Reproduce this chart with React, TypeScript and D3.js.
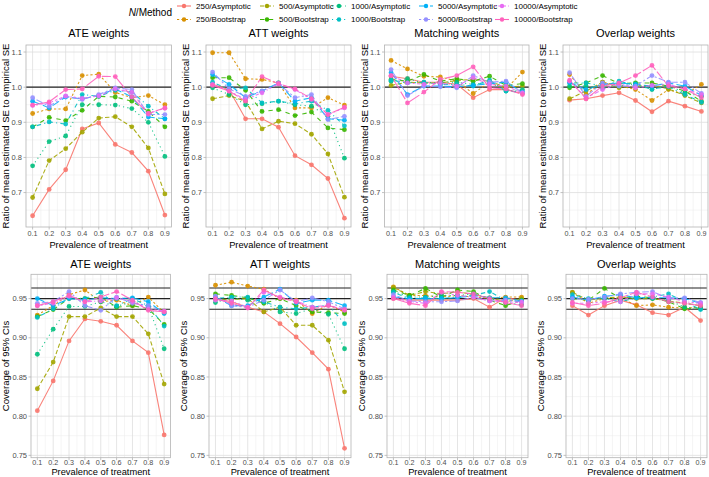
import React, { useEffect } from "react";
import * as d3 from "d3";

// ---------- data ----------
const prevalence = [0.1, 0.2, 0.3, 0.4, 0.5, 0.6, 0.7, 0.8, 0.9];
const seriesLabels = [
  "250/Asymptotic", "250/Bootstrap", "500/Asymptotic", "500/Bootstrap",
  "1000/Asymptotic", "1000/Bootstrap", "5000/Asymptotic", "5000/Bootstrap",
  "10000/Asymptotic", "10000/Bootstrap",
];
const seriesColors = [
  "#F8766D", "#D89000", "#A3A500", "#39B600", "#00BF7D",
  "#00BFC4", "#00B0F6", "#9590FF", "#E76BF3", "#FF62BC",
];
const seriesLinetypes = ["solid", "22", "42", "44", "13", "1343", "73", "2262", "12223242", "F282"];
const panelTitles = ["ATE weights", "ATT weights", "Matching weights", "Overlap weights"];
const seTicks = [0.7, 0.8, 0.9, 1.0, 1.1];
const covTicks = [0.75, 0.8, 0.85, 0.9, 0.95];
const seRefLines = [1.0];
const covRefLines = [0.9365, 0.95, 0.9635];

// Ratio of mean estimated SE to empirical SE (series order = seriesLabels)
const seATE = [
  [0.634, 0.709, 0.765, 0.881, 0.898, 0.837, 0.814, 0.761, 0.636],
  [0.925, 0.938, 0.938, 1.033, 1.037, 0.985, 0.970, 0.976, 0.950],
  [0.686, 0.791, 0.825, 0.872, 0.912, 0.916, 0.887, 0.827, 0.696],
  [0.887, 0.914, 0.905, 0.934, 0.974, 0.972, 0.960, 0.931, 0.887],
  [0.776, 0.845, 0.861, 0.950, 0.950, 0.949, 0.939, 0.900, 0.803],
  [0.887, 0.901, 0.895, 0.979, 0.974, 0.991, 0.986, 0.946, 0.910],
  [0.960, 0.941, 0.972, 0.967, 0.976, 0.995, 0.972, 0.915, 0.910],
  [0.970, 0.946, 0.974, 0.965, 0.979, 0.998, 0.993, 0.922, 0.922],
  [0.948, 0.955, 0.975, 0.968, 0.975, 0.995, 0.985, 0.925, 0.940],
  [0.949, 0.958, 0.993, 0.995, 1.031, 1.030, 0.972, 0.925, 0.941],
];
const seATT = [
  [1.008, 0.993, 0.910, 0.910, 0.886, 0.805, 0.779, 0.740, 0.627],
  [1.098, 1.098, 1.024, 1.022, 1.012, 0.941, 0.941, 0.970, 0.949],
  [0.967, 0.976, 0.960, 0.881, 0.903, 0.896, 0.866, 0.810, 0.687],
  [1.027, 1.027, 0.991, 0.931, 0.936, 0.919, 0.929, 0.884, 0.879],
  [0.998, 0.979, 0.950, 0.953, 0.960, 0.950, 0.946, 0.917, 0.798],
  [1.014, 0.993, 0.998, 0.955, 0.960, 0.953, 0.960, 0.934, 0.890],
  [1.036, 1.008, 0.970, 0.989, 1.012, 0.960, 0.970, 0.910, 0.906],
  [1.043, 0.995, 0.974, 0.989, 1.010, 0.970, 0.979, 0.908, 0.917],
  [1.008, 0.989, 0.965, 0.984, 1.010, 0.993, 0.965, 0.922, 0.941],
  [1.005, 0.989, 0.960, 1.030, 1.010, 0.995, 0.967, 0.922, 0.943],
];
const seMatching = [
  [1.031, 1.024, 1.014, 1.014, 1.008, 0.970, 0.993, 0.993, 0.982],
  [1.076, 1.052, 1.031, 1.029, 1.017, 0.982, 1.014, 0.995, 1.043],
  [1.005, 1.014, 1.012, 1.012, 1.019, 1.022, 1.017, 1.000, 1.003],
  [1.022, 1.017, 1.036, 1.017, 1.024, 1.017, 1.031, 1.005, 1.010],
  [1.017, 1.024, 1.012, 1.014, 1.014, 1.008, 1.014, 0.989, 0.993],
  [1.020, 1.012, 1.014, 1.008, 1.008, 1.003, 1.020, 0.989, 0.986],
  [1.041, 0.979, 1.003, 1.003, 1.001, 1.005, 1.010, 1.014, 0.986],
  [1.050, 0.976, 1.003, 1.001, 0.998, 1.033, 1.014, 1.017, 0.984],
  [1.033, 1.012, 1.008, 1.012, 1.003, 1.027, 1.008, 1.003, 0.984],
  [1.033, 0.955, 0.986, 1.022, 1.033, 1.058, 0.998, 0.995, 0.979],
];
const seOverlap = [
  [0.963, 0.967, 0.976, 0.984, 0.962, 0.930, 0.960, 0.946, 0.931],
  [1.036, 0.979, 1.014, 1.005, 0.993, 0.962, 0.993, 0.979, 1.008],
  [0.967, 0.989, 1.014, 0.998, 1.003, 1.005, 0.995, 0.976, 0.955],
  [0.998, 1.012, 1.033, 1.010, 1.012, 1.012, 1.003, 0.989, 0.960],
  [1.003, 1.003, 0.998, 1.003, 1.010, 0.993, 1.005, 0.984, 0.974],
  [1.012, 1.012, 1.003, 1.017, 1.005, 0.995, 1.001, 0.979, 0.957],
  [1.014, 0.993, 1.008, 1.012, 1.008, 1.003, 1.012, 1.003, 0.976],
  [1.041, 0.974, 1.012, 1.003, 1.003, 1.033, 1.014, 1.014, 0.982],
  [1.017, 0.970, 0.993, 1.010, 0.998, 1.005, 1.008, 0.995, 0.979],
  [1.020, 0.967, 1.003, 1.012, 1.033, 1.062, 1.003, 0.995, 0.970],
];

// Coverage of 95% CIs
const covATE = [
  [0.807, 0.845, 0.896, 0.924, 0.921, 0.916, 0.896, 0.881, 0.776],
  [0.929, 0.941, 0.955, 0.961, 0.946, 0.948, 0.941, 0.952, 0.932],
  [0.835, 0.869, 0.927, 0.927, 0.938, 0.927, 0.927, 0.905, 0.841],
  [0.927, 0.936, 0.950, 0.950, 0.952, 0.939, 0.941, 0.937, 0.917],
  [0.879, 0.911, 0.940, 0.940, 0.946, 0.940, 0.946, 0.940, 0.886],
  [0.926, 0.937, 0.951, 0.950, 0.958, 0.941, 0.950, 0.941, 0.915],
  [0.950, 0.941, 0.950, 0.948, 0.951, 0.950, 0.951, 0.946, 0.931],
  [0.944, 0.946, 0.959, 0.941, 0.935, 0.952, 0.944, 0.941, 0.933],
  [0.941, 0.944, 0.953, 0.946, 0.947, 0.951, 0.946, 0.937, 0.934],
  [0.941, 0.946, 0.954, 0.946, 0.952, 0.959, 0.948, 0.935, 0.933],
];
const covATT = [
  [0.950, 0.946, 0.939, 0.933, 0.918, 0.901, 0.881, 0.860, 0.759],
  [0.967, 0.971, 0.966, 0.962, 0.950, 0.948, 0.931, 0.942, 0.933],
  [0.949, 0.949, 0.950, 0.933, 0.939, 0.916, 0.916, 0.897, 0.831],
  [0.956, 0.954, 0.951, 0.944, 0.950, 0.941, 0.933, 0.932, 0.931],
  [0.945, 0.951, 0.948, 0.946, 0.933, 0.931, 0.937, 0.930, 0.886],
  [0.950, 0.952, 0.952, 0.946, 0.939, 0.937, 0.939, 0.942, 0.918],
  [0.952, 0.941, 0.941, 0.952, 0.962, 0.944, 0.948, 0.948, 0.941],
  [0.953, 0.941, 0.939, 0.948, 0.961, 0.946, 0.951, 0.946, 0.937],
  [0.948, 0.947, 0.939, 0.958, 0.952, 0.947, 0.939, 0.942, 0.935],
  [0.950, 0.944, 0.938, 0.961, 0.951, 0.946, 0.937, 0.941, 0.936],
];
const covMatching = [
  [0.950, 0.948, 0.948, 0.948, 0.948, 0.950, 0.939, 0.951, 0.948],
  [0.965, 0.954, 0.954, 0.952, 0.954, 0.952, 0.950, 0.952, 0.952],
  [0.964, 0.954, 0.959, 0.956, 0.959, 0.955, 0.951, 0.946, 0.950],
  [0.961, 0.954, 0.963, 0.952, 0.961, 0.959, 0.948, 0.941, 0.948],
  [0.959, 0.952, 0.952, 0.954, 0.954, 0.956, 0.950, 0.945, 0.942],
  [0.958, 0.950, 0.951, 0.950, 0.952, 0.954, 0.959, 0.948, 0.946],
  [0.952, 0.950, 0.950, 0.950, 0.951, 0.954, 0.951, 0.951, 0.947],
  [0.955, 0.947, 0.946, 0.946, 0.947, 0.952, 0.947, 0.948, 0.946],
  [0.952, 0.946, 0.944, 0.958, 0.954, 0.952, 0.947, 0.946, 0.945],
  [0.950, 0.944, 0.941, 0.959, 0.958, 0.956, 0.950, 0.945, 0.941],
];
const covOverlap = [
  [0.941, 0.929, 0.941, 0.948, 0.942, 0.932, 0.929, 0.939, 0.922],
  [0.958, 0.944, 0.950, 0.951, 0.941, 0.942, 0.939, 0.938, 0.939],
  [0.958, 0.948, 0.951, 0.952, 0.950, 0.950, 0.947, 0.944, 0.941],
  [0.950, 0.948, 0.963, 0.950, 0.953, 0.951, 0.946, 0.937, 0.938],
  [0.951, 0.949, 0.951, 0.949, 0.952, 0.950, 0.948, 0.939, 0.937],
  [0.955, 0.950, 0.950, 0.946, 0.951, 0.952, 0.956, 0.946, 0.936],
  [0.952, 0.948, 0.953, 0.955, 0.951, 0.951, 0.951, 0.950, 0.944],
  [0.950, 0.949, 0.952, 0.956, 0.958, 0.959, 0.950, 0.951, 0.945],
  [0.944, 0.944, 0.946, 0.946, 0.956, 0.956, 0.952, 0.946, 0.944],
  [0.945, 0.941, 0.944, 0.951, 0.958, 0.952, 0.946, 0.944, 0.941],
];

const seData = [seATE, seATT, seMatching, seOverlap];
const covData = [covATE, covATT, covMatching, covOverlap];

// ---------- drawing ----------
const FONT = "'Liberation Sans', Arial, Helvetica, sans-serif";
const LW = 1.1;

function dash(lt: string): string | undefined {
  if (lt === "solid") return undefined;
  return lt.split("").map((c) => (parseInt(c, 16) * LW).toFixed(2)).join(" ");
}

type PanelProps = {
  left: number; right: number; top: number; bottom: number;
  yDomain: [number, number]; yTicks: number[]; yFmt: (n: number) => string;
  data: number[][]; refLines: number[]; title: string; yTitle: string;
  titleY: number; tickY: number; xTitleY: number; yTitleX: number;
};

function Panel(p: PanelProps) {
  const x = d3.scaleLinear().domain([0.06, 0.94]).range([p.left, p.right]);
  const y = d3.scaleLinear().domain(p.yDomain).range([p.bottom, p.top]);
  const xMinor = d3.pairs(prevalence).map(([a, b]) => (a + b) / 2);
  const yStep = p.yTicks[1] - p.yTicks[0];
  const yMinorAll = [p.yTicks[0] - yStep / 2, ...d3.pairs(p.yTicks).map(([a, b]) => (a + b) / 2), p.yTicks[p.yTicks.length - 1] + yStep / 2];
  const yMinor = yMinorAll.filter((v) => v >= p.yDomain[0] && v <= p.yDomain[1]);
  const line = d3.line<number>().x((_, i) => x(prevalence[i])).y((d) => y(d));
  const cx = (p.left + p.right) / 2;
  const cy = (p.top + p.bottom) / 2;
  return (
    <g>
      <rect x={p.left} y={p.top} width={p.right - p.left} height={p.bottom - p.top} fill="#fff" />
      {xMinor.map((v) => (
        <line key={"xm" + v} x1={x(v)} x2={x(v)} y1={p.top} y2={p.bottom} stroke="#EFEFEF" strokeWidth={0.6} />
      ))}
      {yMinor.map((v) => (
        <line key={"ym" + v} x1={p.left} x2={p.right} y1={y(v)} y2={y(v)} stroke="#EFEFEF" strokeWidth={0.6} />
      ))}
      {prevalence.map((v) => (
        <line key={"xg" + v} x1={x(v)} x2={x(v)} y1={p.top} y2={p.bottom} stroke="#DEDEDE" strokeWidth={0.8} />
      ))}
      {p.yTicks.map((v) => (
        <line key={"yg" + v} x1={p.left} x2={p.right} y1={y(v)} y2={y(v)} stroke="#DEDEDE" strokeWidth={0.8} />
      ))}
      {p.refLines.map((v) => (
        <line key={"ref" + v} x1={p.left} x2={p.right} y1={y(v)} y2={y(v)} stroke="#222" strokeWidth={1.1} />
      ))}
      {p.data.map((s, i) => (
        <path key={"l" + i} d={line(s) || ""} fill="none" stroke={seriesColors[i]} strokeWidth={LW}
          strokeDasharray={dash(seriesLinetypes[i])} opacity={0.9} />
      ))}
      {p.data.map((s, i) =>
        s.map((v, j) => (
          <circle key={"p" + i + "-" + j} cx={x(prevalence[j])} cy={y(v)} r={2.4} fill={seriesColors[i]} opacity={0.9} />
        ))
      )}
      <rect x={p.left} y={p.top} width={p.right - p.left} height={p.bottom - p.top} fill="none" stroke="#B3B3B3" strokeWidth={0.8} />
      {prevalence.map((v) => (
        <g key={"xt" + v}>
          <line x1={x(v)} x2={x(v)} y1={p.bottom} y2={p.bottom + 2.5} stroke="#B3B3B3" strokeWidth={0.8} />
          <text x={x(v)} y={p.tickY} textAnchor="middle" fontSize={7.2} fill="#4D4D4D">{d3.format(".1f")(v)}</text>
        </g>
      ))}
      {p.yTicks.map((v) => (
        <g key={"yt" + v}>
          <line x1={p.left - 2.5} x2={p.left} y1={y(v)} y2={y(v)} stroke="#B3B3B3" strokeWidth={0.8} />
          <text x={p.left - 4} y={y(v) + 2.7} textAnchor="end" fontSize={7.5} fill="#4D4D4D">{p.yFmt(v)}</text>
        </g>
      ))}
      <text x={cx} y={p.titleY} textAnchor="middle" fontSize={11} fill="#000">{p.title}</text>
      <text x={cx} y={p.xTitleY} textAnchor="middle" fontSize={9.3} fill="#000">Prevalence of treatment</text>
      <text transform={`translate(${p.yTitleX},${cy}) rotate(-90)`} textAnchor="middle" dominantBaseline="central" fontSize={9.5} fill="#000">{p.yTitle}</text>
    </g>
  );
}

const topLefts = [26, 206, 384.5, 563];
const topRights = [171.5, 351, 529, 708];
const botLefts = [31, 209, 387, 566];
const botRights = [170.5, 351, 528, 707];
const legendDotX = [184, 267, 339, 426, 502];

export default function App() {
  useEffect(() => {
    document.body.style.margin = "0";
  }, []);
  const fmt1 = d3.format(".1f");
  const fmt2 = d3.format(".2f");
  return (
    <svg width={709} height={477} style={{ position: "absolute", left: 0, top: 0, fontFamily: FONT }}>
      <rect width={709} height={477} fill="#fff" />
      {/* legend */}
      <text x={172} y={16} textAnchor="end" fontSize={10} fill="#000">
        <tspan fontStyle="italic">N</tspan>/Method
      </text>
      {seriesLabels.map((lab, i) => {
        const col = Math.floor(i / 2);
        const row = i % 2;
        const dx = legendDotX[col];
        const ly = row === 0 ? 6 : 19.5;
        return (
          <g key={"lg" + i}>
            <line x1={dx - 7} x2={dx + 7} y1={ly} y2={ly} stroke={seriesColors[i]} strokeWidth={LW} strokeDasharray={dash(seriesLinetypes[i])} />
            <circle cx={dx} cy={ly} r={2.2} fill={seriesColors[i]} />
            <text x={dx + 12} y={ly + 2.9} fontSize={8} fill="#000">{lab}</text>
          </g>
        );
      })}
      {panelTitles.map((t, i) => (
        <Panel key={"top" + i} left={topLefts[i]} right={topRights[i]} top={45} bottom={227}
          yDomain={[0.602, 1.12]} yTicks={seTicks} yFmt={fmt1} data={seData[i]} refLines={seRefLines}
          title={t} yTitle="Ratio of mean estimated SE to empirical SE"
          titleY={37} tickY={236} xTitleY={247.5} yTitleX={topLefts[i] - 20.5} />
      ))}
      {panelTitles.map((t, i) => (
        <Panel key={"bot" + i} left={botLefts[i]} right={botRights[i]} top={274.3} bottom={457.7}
          yDomain={[0.747, 0.981]} yTicks={covTicks} yFmt={fmt2} data={covData[i]} refLines={covRefLines}
          title={t} yTitle="Coverage of 95% CIs"
          titleY={268} tickY={464.8} xTitleY={474.7} yTitleX={botLefts[i] - 25.5} />
      ))}
    </svg>
  );
}
